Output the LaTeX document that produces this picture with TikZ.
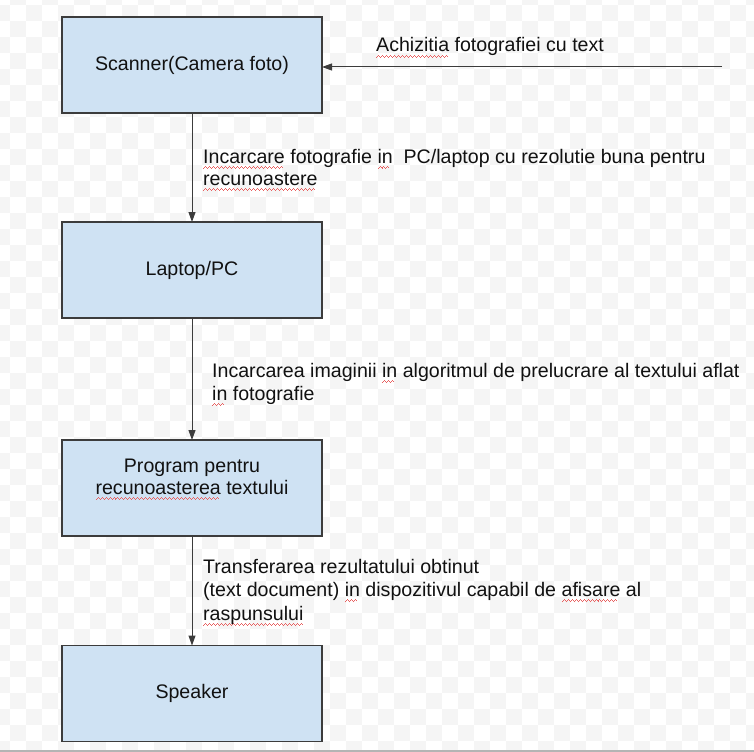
\documentclass[tikz,border=0pt]{standalone}
\usepackage{fontspec}
\setmainfont{Liberation Sans}
\usetikzlibrary{arrows.meta}
\definecolor{boxfill}{HTML}{CFE2F3}
\definecolor{boxline}{HTML}{3C3C3C}
\definecolor{chk}{HTML}{F5F5F5}
\definecolor{squigred}{HTML}{E86060}
\definecolor{txt}{HTML}{111111}
\newlength\squiglen
\newcommand\squig[1]{\settowidth\squiglen{#1}\rlap{\leaders\hbox{\textcolor{squigred}{\rule[-6pt]{1pt}{1pt}\rule[-5pt]{1pt}{1pt}\rule[-4pt]{1pt}{1pt}\rule[-5pt]{1pt}{1pt}}}\hskip\squiglen}#1}
\begin{document}
\begin{tikzpicture}[x=1bp,y={(0bp,-1bp)},
  font=\fontsize{19.6bp}{23bp}\selectfont,
  box/.style={draw=boxline, fill=boxfill, line width=1.3bp, minimum width=260bp, minimum height=96bp, inner sep=0pt, outer sep=0pt, text=txt},
  arr/.style={draw=boxline, line width=1bp, -{Triangle[length=10bp,width=7bp]}},
  lbl/.style={anchor=base west, align=left, inner sep=0pt, text=txt}]
\useasboundingbox (0,0) rectangle (754,752);
\begin{scope}
\clip (0,0) rectangle (754,752);
\foreach \i in {-1,...,46}{
  \pgfmathtruncatemacro\jz{mod(\i+2,2)==1 ? 0 : -1}
  \pgfmathtruncatemacro\jn{\jz+2}
  \foreach \j in {\jz,\jn,...,46}{
    \fill[chk] ({10+16*\i},{5+16*\j}) rectangle ++(16,16);
  }
}
\end{scope}
\draw[draw={rgb,255:red,180;green,180;blue,180}, line width=1.5bp] (0,751) -- (754,751);

\node[box] (b1) at (192,65) {Scanner(Camera foto)};
\node[box] (b2) at (192,270) {Laptop/PC};
\node[box] (b3) at (192,488) {};
\node[anchor=base, align=center, inner sep=0pt, text=txt, font=\fontsize{19.6bp}{22bp}\selectfont] (t3) at (192,494) {Program pentru\\\squig{recunoasterea} textului};
\node[box] (b4) at (192,693.5) {Speaker};

\coordinate (src) at (722,67);
\draw[arr] (src) -- (src -| b1.east);
\draw[arr] (b1.south) -- (b2.north);
\draw[arr] (b2.south) -- (b3.north);
\draw[arr] (b3.south) -- (b4.north);

\node[lbl] (l0) at (376,52) {\squig{Achizitia} fotografiei cu text};
\node[lbl, font=\fontsize{19.6bp}{22bp}\selectfont] (l1) at (203,185) {\squig{Incarcare} fotografie \squig{in}\ \ PC/laptop cu rezolutie buna pentru\\\squig{recunoastere}};
\node[lbl] (l2) at (212,400) {Incarcarea imaginii \squig{in} algoritmul de prelucrare al textului aflat\\\squig{in} fotografie};
\node[lbl, font=\fontsize{19.6bp}{23.5bp}\selectfont] (l3) at (203,620) {Transferarea rezultatului obtinut\\(text document) \squig{in} dispozitivul capabil de \squig{afisare} al\\\squig{raspunsului}};
\end{tikzpicture}
\end{document}
